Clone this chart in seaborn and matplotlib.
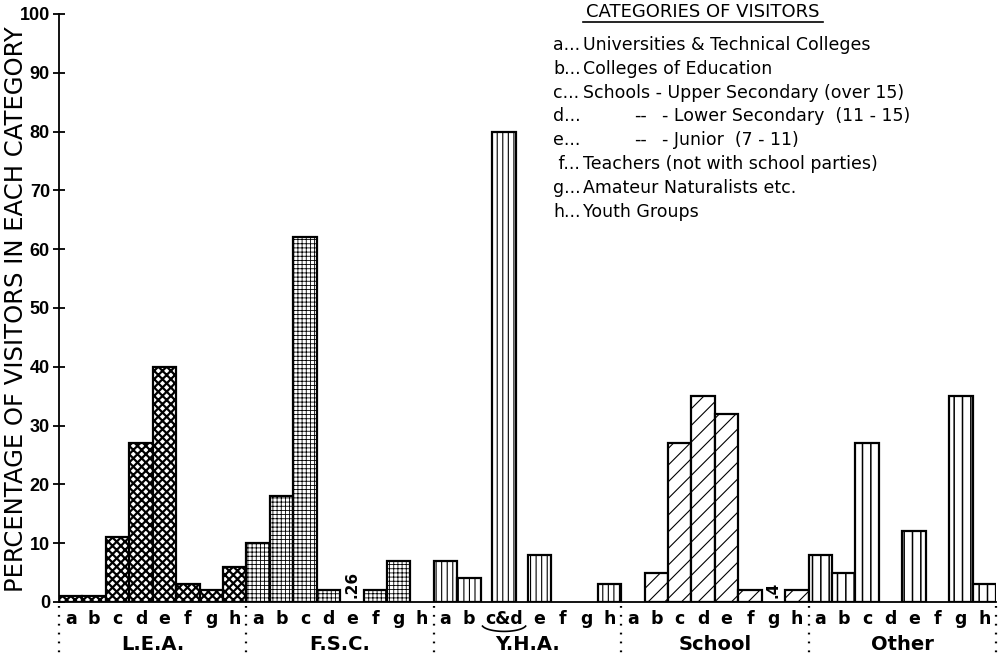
import numpy as np
import pandas as pd
import matplotlib
matplotlib.use("Agg")
import matplotlib.pyplot as plt
import matplotlib.transforms as mtrans
from matplotlib.lines import Line2D
import seaborn as sns

# ---------------- data ----------------
groups = ["L.E.A.", "F.S.C.", "Y.H.A.", "School", "Other"]
categories = ["a", "b", "c", "d", "e", "f", "g", "h"]

lea_cats = ["a", "b", "c", "d", "e", "f", "g", "h"]
lea_vals = [1, 1, 11, 27, 40, 3, 2, 6]
fsc_cats = ["a", "b", "c", "d", "e", "f", "g", "h"]
fsc_vals = [10, 18, 62, 2, 0.26, 2, 7, 0]
yha_cats = ["a", "b", "c&d", "e", "f", "g", "h"]
yha_vals = [7, 4, 80, 8, 0, 0, 3]
school_cats = ["a", "b", "c", "d", "e", "f", "g", "h"]
school_vals = [0, 5, 27, 35, 32, 2, 0.4, 2]
other_cats = ["a", "b", "c", "d", "e", "f", "g", "h"]
other_vals = [8, 5, 27, 0, 12, 0, 35, 3]

legend_title = "CATEGORIES OF VISITORS"
legend_prefix = ["a...", "b...", "c...", "d...", "e...", " f...", "g...", "h..."]
legend_text = [
    "Universities & Technical Colleges",
    "Colleges of Education",
    "Schools - Upper Secondary (over 15)",
    "- Lower Secondary  (11 - 15)",
    "- Junior  (7 - 11)",
    "Teachers (not with school parties)",
    "Amateur Naturalists etc.",
    "Youth Groups",
]

y_label = "PERCENTAGE OF VISITORS IN EACH CATEGORY"
y_ticks = [0, 10, 20, 30, 40, 50, 60, 70, 80, 90, 100]

group_cats = [lea_cats, fsc_cats, yha_cats, school_cats, other_cats]
group_vals = [lea_vals, fsc_vals, yha_vals, school_vals, other_vals]
hatches = ["xxxx", "++++", "|||", "//", "||"]
hatch_lw = [1.6, 0.6, 0.8, 0.8, 1.1]


def slot(gi, cat):
    if "&" in cat:
        parts = cat.split("&")
        return gi * 8 + np.mean([categories.index(p) for p in parts])
    return gi * 8 + categories.index(cat)


rows = []
for gi, (g, cats, vals) in enumerate(zip(groups, group_cats, group_vals)):
    for c, v in zip(cats, vals):
        rows.append({"group": g, "cat": c, "pos": slot(gi, c), "value": v})
df = pd.DataFrame(rows)

# ---------------- figure ----------------
W, H = 1005, 659
fig = plt.figure(figsize=(W / 100, H / 100), dpi=100)
left, right, top, bottom = 59, 996, 14, 602
ax = fig.add_axes([left / W, 1 - bottom / H, (right - left) / W, (bottom - top) / H])

plt.rcParams["hatch.linewidth"] = 0.8
drawn = df[df["value"] >= 1]
sns.barplot(data=drawn, x="pos", y="value", hue="group", hue_order=groups,
            palette=["white"] * len(groups), native_scale=True, dodge=False,
            width=1.0, edgecolor="black", linewidth=1.6, errorbar=None,
            legend=False, ax=ax)

for cont, h, hlw in zip(ax.containers, hatches, hatch_lw):
    for p in cont.patches:
        p.set_hatch(h)
        if hasattr(p, "set_hatch_linewidth"):
            p.set_hatch_linewidth(hlw)

ax.set_xlim(-0.5, len(groups) * 8 - 0.5)
ax.set_ylim(0, 100)

# small values labelled instead of drawn
for _, r in df[(df["value"] > 0) & (df["value"] < 1)].iterrows():
    ax.text(r["pos"], 0.6, ("%g" % r["value"]).lstrip("0"), rotation=90,
            ha="center", va="bottom", fontsize=11, fontweight="bold",
            family=["DejaVu Sans"])

# axes styling
for s in ["top", "right"]:
    ax.spines[s].set_visible(False)
ax.spines["left"].set_linewidth(1.3)
ax.spines["bottom"].set_linewidth(1.3)
ax.set_yticks(y_ticks)
ax.set_yticklabels([str(t) for t in y_ticks], fontsize=13, fontweight="bold",
                   family=["Liberation Sans", "DejaVu Sans"])
ax.tick_params(axis="y", direction="inout", length=9, width=1.3, pad=2)

ax.set_xticks(df["pos"].tolist())
ax.set_xticklabels(df["cat"].tolist(), fontsize=12.5, fontweight="bold",
                   family=["DejaVu Sans"])
ax.tick_params(axis="x", length=0, pad=6)
ax.set_xlabel("")
ax.set_ylabel("")

# brace under c&d
tr = mtrans.blended_transform_factory(ax.transData, ax.transAxes)
t = np.linspace(np.pi * 1.08, np.pi * 1.92, 40)
for _, r in df[df["cat"].str.contains("&")].iterrows():
    ax.plot(r["pos"] + 0.95 * np.cos(t), -0.038 + 0.012 * np.sin(t),
            transform=tr, clip_on=False, lw=1.2, color="black")

# dotted group separators and group names
for gi in range(len(groups) + 1):
    x = gi * 8 - 0.5
    ax.plot([x, x], [-0.006, -0.1], transform=tr, clip_on=False,
            color="black", lw=1.6, linestyle=(0, (0.8, 3.2)))
for gi, g in enumerate(groups):
    ax.text(gi * 8 + 3.5, -0.073, g, transform=tr, ha="center", va="center",
            fontsize=14, fontweight="bold", family=["DejaVu Sans"])

# y label
fig.text(16 / W, 1 - 309 / H, y_label, rotation=90, ha="center", va="center",
         fontsize=17.5, family=["DejaVu Sans"])

# legend block
def px(x, y):
    return x / W, 1 - y / H

fs = 12.5
fig.text(*px(703, 12), legend_title, ha="center", va="center", fontsize=13,
         family=["DejaVu Sans"])
fig.add_artist(Line2D([583 / W, 823 / W], [1 - 22 / H, 1 - 22 / H],
                      color="black", lw=1.2))
ys = [45, 69, 93, 116, 140, 164, 188, 212]
for i, (pre, txt, y) in enumerate(zip(legend_prefix, legend_text, ys)):
    fig.text(*px(553, y), pre, ha="left", va="center", fontsize=fs,
             family=["DejaVu Sans"])
    if txt.startswith("-"):
        fig.text(*px(634, y), "--", ha="left", va="center", fontsize=fs,
                 family=["DejaVu Sans"])
        fig.text(*px(662, y), txt, ha="left", va="center", fontsize=fs,
                 family=["DejaVu Sans"])
    else:
        fig.text(*px(583, y), txt, ha="left", va="center", fontsize=fs,
                 family=["DejaVu Sans"])

fig.savefig("out.png", dpi=100)
